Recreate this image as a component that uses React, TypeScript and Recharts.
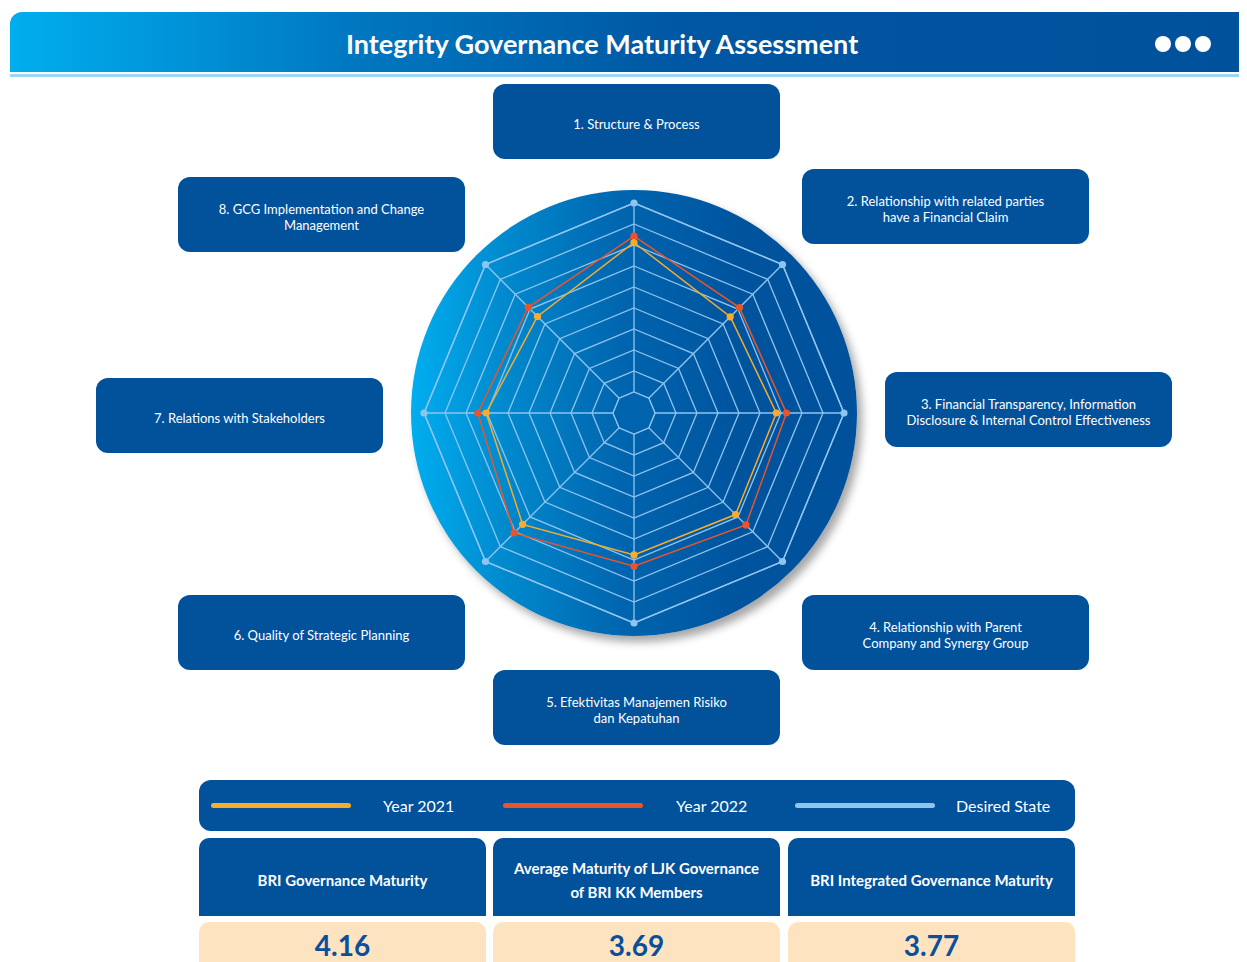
import React from 'react'
import { RadarChart, Radar, PolarGrid, PolarAngleAxis, PolarRadiusAxis, Legend } from 'recharts'

const categories = [
  '1. Structure & Process',
  '2. Relationship with related parties have a Financial Claim',
  '3. Financial Transparency, Information Disclosure & Internal Control Effectiveness',
  '4. Relationship with Parent Company and Synergy Group',
  '5. Efektivitas Manajemen Risiko dan Kepatuhan',
  '6. Quality of Strategic Planning',
  '7. Relations with Stakeholders',
  '8. GCG Implementation and Change Management',
]
const year2021 = [4.06, 3.24, 3.39, 3.42, 3.38, 3.75, 3.52, 3.25]
const year2022 = [4.21, 3.55, 3.63, 3.77, 3.65, 4.04, 3.72, 3.56]
const desiredState = [5, 5, 5, 5, 5, 5, 5, 5]
const core = [0.5, 0.5, 0.5, 0.5, 0.5, 0.5, 0.5, 0.5]
const radiusTicks = [0.5, 1, 1.5, 2, 2.5, 3, 3.5, 4, 4.5, 5]
const maxValue = 5

const legendOrder = ['Year 2021', 'Year 2022', 'Desired State']

const summaryTitles = [
  ['BRI Governance Maturity'],
  ['Average Maturity of LJK Governance', 'of BRI KK Members'],
  ['BRI Integrated Governance Maturity'],
]
const summaryValues = ['4.16', '3.69', '3.77']

const data = categories.map((name, i) => ({
  name,
  y2021: year2021[i],
  y2022: year2022[i],
  desired: desiredState[i],
  core: core[i],
}))

const BLUE = '#01519b'
const GRID = '#8fc4ee'
const OUTER_R = 210

// label boxes around the web: left, top, lines
const boxes: { left: number; top: number; lines: string[] }[] = [
  { left: 485, top: 76, lines: ['1. Structure & Process'] },
  { left: 794, top: 161, lines: ['2. Relationship with related parties', 'have a Financial Claim'] },
  { left: 877, top: 364, lines: ['3. Financial Transparency, Information', 'Disclosure & Internal Control Effectiveness'] },
  { left: 794, top: 587, lines: ['4. Relationship with Parent', 'Company and Synergy Group'] },
  { left: 485, top: 662, lines: ['5. Efektivitas Manajemen Risiko', 'dan Kepatuhan'] },
  { left: 170, top: 587, lines: ['6. Quality of Strategic Planning'] },
  { left: 88, top: 370, lines: ['7. Relations with Stakeholders'] },
  { left: 170, top: 169, lines: ['8. GCG Implementation and Change', 'Management'] },
]

const legendGaps = [32, 33, 21]

function LegendContent({ payload }: any) {
  const items = (payload || [])
    .filter((p: any) => legendOrder.includes(p.value))
    .sort((a: any, b: any) => legendOrder.indexOf(a.value) - legendOrder.indexOf(b.value))
  return (
    <div style={{ display: 'flex', height: 51, alignItems: 'center', background: BLUE, borderRadius: 12 }}>
      {items.map((p: any, i: number) => (
        <div key={p.value} style={{ width: 292, display: 'flex', alignItems: 'center' }}>
          <div style={{ marginLeft: 12, width: 140, height: 5, borderRadius: 3, background: p.color }} />
          <span style={{ marginLeft: legendGaps[i], color: '#fff', fontSize: 16 }}>{p.value}</span>
        </div>
      ))}
    </div>
  )
}

const makeDot = (color: string) => (props: any) => (
  <circle key={`${color}-${props.index}`} cx={props.cx} cy={props.cy} r={3.6} fill={color} />
)

export default function App() {
  return (
    <div style={{ position: 'relative', width: 1239, height: 954, overflow: 'hidden', fontFamily: 'Lato, sans-serif' }}>
      {/* title bar */}
      <div
        style={{
          position: 'absolute', left: 2, top: 4, width: 1237, height: 60, borderTopLeftRadius: 12,
          background: 'linear-gradient(to right, #00aeef 0%, #0077c0 28%, #0056a2 55%, #00519b 100%)',
        }}
      />
      <div style={{ position: 'absolute', left: 2, top: 66, width: 1237, height: 3, background: '#9dd5f3' }} />
      <div style={{ position: 'absolute', left: 338, top: 20, color: '#fff', fontWeight: 700, fontSize: 27, lineHeight: '32px' }}>
        Integrity Governance Maturity Assessment
      </div>
      {[1155, 1175, 1195].map((x) => (
        <div key={x} style={{ position: 'absolute', left: x - 8, top: 28, width: 16, height: 16, borderRadius: 8, background: '#fff' }} />
      ))}

      {/* background disc */}
      <div
        style={{
          position: 'absolute', left: 626 - 223, top: 405 - 223, width: 446, height: 446, borderRadius: '50%',
          background: 'linear-gradient(to right, #00aeef 0%, #0088cc 22%, #0064ae 48%, #00539d 75%, #00519b 100%)',
          boxShadow: '5px 6px 9px rgba(0,0,0,0.35)',
        }}
      />

      <div style={{ position: 'absolute', left: 0, top: 0 }}>
        <RadarChart
          width={1239}
          height={954}
          data={data}
          cx={626}
          cy={405}
          outerRadius={OUTER_R}
          margin={{ top: 0, right: 0, bottom: 0, left: 0 }}
        >
          <PolarGrid
            gridType="polygon"
            stroke={GRID}
            strokeWidth={1.3}
            polarRadius={radiusTicks.map((t) => (t / maxValue) * OUTER_R)}
          />
          <PolarAngleAxis dataKey="name" tick={false} axisLine={false} tickLine={false} />
          <PolarRadiusAxis domain={[0, maxValue]} ticks={radiusTicks as any} tick={false} axisLine={false} />
          <Radar dataKey="core" fill="#0063ad" fillOpacity={1} stroke={GRID} strokeWidth={1.3} legendType="none" dot={false} isAnimationActive={false} />
          <Radar name="Desired State" dataKey="desired" stroke={GRID} strokeWidth={1.4} fill="none" fillOpacity={0} dot={makeDot(GRID)} isAnimationActive={false} />
          <Radar name="Year 2022" dataKey="y2022" stroke="#e8552a" strokeWidth={1.5} fill="none" fillOpacity={0} dot={makeDot('#e8552a')} isAnimationActive={false} />
          <Radar name="Year 2021" dataKey="y2021" stroke="#f9ac2c" strokeWidth={1.5} fill="none" fillOpacity={0} dot={makeDot('#f9ac2c')} isAnimationActive={false} />
          <Legend
            content={<LegendContent />}
            wrapperStyle={{ left: 191, top: 772, bottom: 'auto', width: 876, height: 51 }}
          />
        </RadarChart>
      </div>

      {/* category boxes */}
      {boxes.map((b, i) => (
        <div
          key={i}
          style={{
            position: 'absolute', left: b.left, top: b.top, width: 287, height: 75, borderRadius: 12,
            background: BLUE, color: '#fff', fontSize: 13, lineHeight: '16px', display: 'flex',
            flexDirection: 'column', alignItems: 'center', justifyContent: 'center', textAlign: 'center',
            paddingTop: 4, boxSizing: 'border-box',
          }}
        >
          {b.lines.map((l) => (
            <div key={l}>{l}</div>
          ))}
        </div>
      ))}

      {/* summary table */}
      {[191, 485, 780].map((left, i) => (
        <React.Fragment key={left}>
          <div
            style={{
              position: 'absolute', left, top: 830, width: 287, height: 78, background: BLUE,
              borderTopLeftRadius: 10, borderTopRightRadius: 10, color: '#fff', fontWeight: 700, fontSize: 15,
              lineHeight: '24px', display: 'flex', flexDirection: 'column', alignItems: 'center', justifyContent: 'center',
              paddingTop: 6, boxSizing: 'border-box',
            }}
          >
            {summaryTitles[i].map((t) => (
              <div key={t}>{t}</div>
            ))}
          </div>
          <div
            style={{
              position: 'absolute', left, top: 914, width: 287, height: 50, background: '#fde3c0',
              borderRadius: 10,
            }}
          />
          <div
            style={{
              position: 'absolute', left, top: 922, width: 287, color: '#0a4f9c', fontWeight: 700, fontSize: 28,
              lineHeight: '30px', textAlign: 'center',
            }}
          >
            {summaryValues[i]}
          </div>
        </React.Fragment>
      ))}
    </div>
  )
}
